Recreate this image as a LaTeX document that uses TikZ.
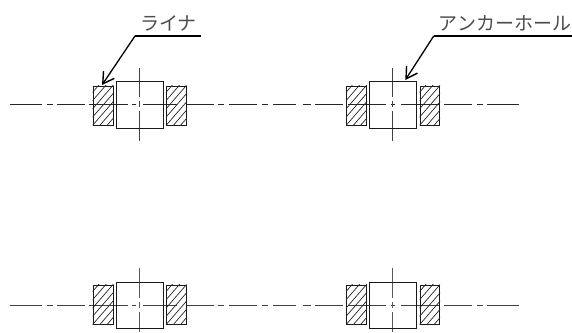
\documentclass[tikz,border=0pt]{standalone}
\usepackage{fontspec}
\usetikzlibrary{arrows.meta}
\newfontfamily\jp{Noto Sans CJK JP}
\tikzset{
  boxshape/.style={draw=black!90,line width=1pt,rectangle,inner sep=0pt,minimum width=#1},
  hatchline/.style={line width=0.7pt,draw=black!85},
  leader/.style={line width=1.3pt,draw=black},
  leaderarrow/.style={line width=1.3pt,draw=black,-{Straight Barb[length=11pt,width=13pt,line width=1.4pt]}},
  lbl/.style={font=\jp\fontsize{19}{19}\selectfont,text=black!70,inner sep=0pt}
}
% #1 prefix, #2 square top, #3 square bottom, #4 liner top, #5 liner bottom, #6 xoffset
\newcommand{\anchorunit}[6]{%
  \pgfmathsetmacro{\sqh}{#3-#2}\pgfmathsetmacro{\lnh}{#5-#4}%
  \node[boxshape=46.8pt,minimum height=\sqh pt,anchor=north west] (#1sq) at (#6+115.8,#2) {};
  \node[boxshape=20pt,minimum height=\lnh pt,anchor=north west] (#1l) at (#6+92.5,#4) {};
  \node[boxshape=19.5pt,minimum height=\lnh pt,anchor=north west] (#1r) at (#6+166,#4) {};
  \foreach \side in {l,r}{%
    \begin{scope}
      \clip (#1\side.north west) rectangle (#1\side.south east);
      \foreach \k in {-5,...,9}{%
        \draw[hatchline] ([xshift=\k*7.2pt]#1\side.south west) -- ++(40,-46);
      }
    \end{scope}
  }
}
\begin{document}
\begin{tikzpicture}[x=1pt,y=-1pt]
\useasboundingbox (0,0) rectangle (572,332);
% top centre lines
\begin{scope}[line width=0.8pt]
\foreach \a/\b in {10/42,47/53,57/85,89/128,132/136,143/177,187/214,218/224,229/257,262/268,273/296,303/311,315/343,348/386,390.5/395,401/440,444/472,477/483,487/519}
  \draw[black!85] (\a,104) -- (\b,104);
\foreach \c in {139,392.7}{
  \draw[black!75] (\c,68) -- (\c,97);
  \draw[black!75] (\c,101) -- (\c,107);
  \draw[black!75] (\c,111) -- (\c,140.5);
}
\end{scope}
% bottom centre lines
\begin{scope}[line width=0.95pt]
\foreach \a/\b in {10/42,47/53,57/85,89/128,132/136,143/177,187/214,218/224,229/257,262/268,273/296,303/311,315/343,348/386,390.5/395,401/440,444/472,477/483,487/519}
  \draw[black!75] (\a,305) -- (\b,305);
\foreach \c in {139,392.7}{
  \draw[black!65] (\c,268) -- (\c,298);
  \draw[black!65] (\c,302) -- (\c,308);
  \draw[black!65] (\c,312) -- (\c,332);
}
\end{scope}
\anchorunit{a}{80.5}{128.3}{85.5}{124.5}{0}
\anchorunit{b}{80.5}{128.3}{85.5}{124.5}{253.5}
\anchorunit{c}{281.5}{327.5}{284.8}{323.7}{0}
\anchorunit{d}{281.5}{327.5}{284.8}{323.7}{253.5}
% labels
\node[lbl] (t1) at (168.5,23.5) {ライナ};
\node[lbl] (t2) at (505,23.5) {アンカーホール};
% leaders
\coordinate (k1) at (135,36);
\coordinate (e1) at (201,36);
\coordinate (p1) at (102,85);
\coordinate (k2) at (433.7,36);
\coordinate (e2) at (572,36);
\coordinate (p2) at (405.3,80);
\draw[leader] (e1) -- (k1);
\draw[leaderarrow] (k1) -- (p1);
\draw[leader] (e2) -- (k2);
\draw[leaderarrow] (k2) -- (p2);
\end{tikzpicture}
\end{document}
